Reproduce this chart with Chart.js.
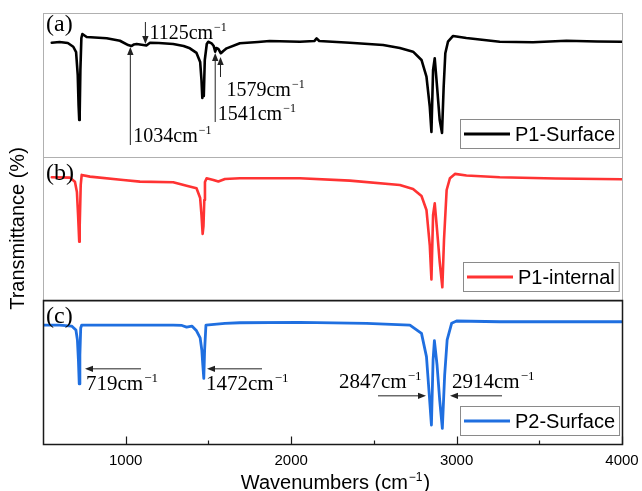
<!DOCTYPE html>
<html><head><meta charset="utf-8">
<script src="https://cdn.jsdelivr.net/npm/chart.js@4/dist/chart.umd.min.js"></script>
<style>html,body{margin:0;padding:0;background:#fff}#wrap{width:642px;height:491px}</style>
</head><body><div id="wrap"><canvas id="c" width="642" height="491"></canvas></div>
<script>
// ---------- data ----------
const xTicks = [1000, 2000, 3000, 4000];
const minorTicks = [1500, 2500, 3500];
const seriesNames = ['P1-Surface', 'P1-internal', 'P2-Surface'];
const seriesColors = ['#000000', '#ff3333', '#1f6fe0'];
const panelLetters = ['(a)', '(b)', '(c)'];

const waveA = [553,600,650,683,700,710,715,719,722,726,732,738,764,885,965,1015,1034,1050,1066,1106,1125,1147,1200,1287,1350,1388,1428,1450,1458,1463,1468,1472,1478,1490,1499,1519,1532,1541,1548,1560,1575,1590,1610,1690,1800,1870,2053,2140,2154,2170,2355,2556,2657,2737,2788,2818,2838,2848,2858,2868,2882,2898,2912,2922,2932,2948,2979,3059,3261,3462,3664,3850,3997];
const transA = [79.3,79.8,79.1,76.5,72.8,56.9,36.0,25.5,31.1,60.3,82.6,85.4,83.3,82.4,80.7,77.7,77.0,78.1,78.4,77.7,77.4,79.3,79.1,78.4,77.0,75.4,72.2,65.9,53.4,40.8,45.1,42.2,67.3,78.4,80.0,78.9,77.0,73.1,75.6,75.0,72.0,73.6,75.4,78.9,79.8,80.5,80.0,80.5,82.3,80.5,79.3,77.7,75.6,73.1,67.3,55.7,34.8,17.2,60.3,68.5,48.7,25.5,16.5,48.7,72.0,80.0,84.0,82.6,80.0,79.6,80.7,80.2,80.0];

const waveB = [553,663,693,705,712,719,722,728,734,784,985,1086,1287,1368,1428,1450,1458,1465,1470,1475,1479,1489,1530,1560,1600,1690,2053,2355,2657,2737,2788,2818,2838,2848,2858,2868,2882,2898,2914,2924,2940,2960,2990,3060,3261,3600,3997];
const transB = [85.7,85.4,82.6,75.4,59.4,40.8,52.4,80.3,87.3,86.1,83.8,82.6,82.2,79.8,78.0,71.2,59.4,46.2,51.7,69.8,82.4,85.0,83.8,82.7,84.5,85.0,85.0,83.3,80.3,77.5,72.6,62.9,38.5,14.6,59.4,67.5,49.0,26.7,9.1,42.0,76.8,85.0,88.0,86.9,85.7,84.8,84.3];

const waveC = [500,600,673,699,708,714,719,723,728,734,1000,1287,1340,1368,1400,1428,1450,1460,1466,1472,1477,1485,1600,1690,2053,2456,2718,2788,2818,2835,2848,2858,2866,2882,2898,2914,2928,2943,2970,3000,3261,3600,3997];
const transC = [82.8,82.8,82.1,79.3,72.4,58.5,41.8,61.9,80.7,82.8,82.8,82.8,82.5,81.4,82.1,78.8,73.8,65.4,55.0,45.7,65.4,82.8,83.9,84.4,84.7,84.0,82.8,77.0,60.8,34.1,13.2,58.5,71.9,55.0,30.6,10.9,48.0,72.4,84.0,85.6,85.1,85.1,85.1];

const peakLabelsA = ['1125', '1034', '1541', '1579'];
const peakLabelsC = ['719', '1472', '2847', '2914'];

const toPoints = (xs, ys) => xs.map((x, i) => ({x: x, y: ys[i]}));

// ---------- drawing helpers ----------
const SERIF = '"Liberation Serif", "Times New Roman", serif';
const SANS = '"Liberation Sans", Arial, sans-serif';

function cmText(ctx, num, x, y, size, fam) {
  ctx.textAlign = 'left'; ctx.textBaseline = 'alphabetic'; ctx.fillStyle = '#000';
  ctx.font = size + 'px ' + fam;
  const main = num + 'cm';
  ctx.fillText(main, x, y);
  const w = ctx.measureText(main).width;
  ctx.font = Math.round(size * 0.62) + 'px ' + fam;
  ctx.fillText('\u22121', x + w + 1, y - size * 0.38);
}
function arrow(ctx, x1, y1, x2, y2) {
  ctx.save();
  ctx.strokeStyle = '#222'; ctx.fillStyle = '#222'; ctx.lineWidth = 1;
  const a = Math.atan2(y2 - y1, x2 - x1), L = 8, H = 3.2;
  const bx = x2 - L * Math.cos(a), by = y2 - L * Math.sin(a);
  ctx.beginPath(); ctx.moveTo(x1, y1); ctx.lineTo(bx, by); ctx.stroke();
  ctx.beginPath();
  ctx.moveTo(x2, y2);
  ctx.lineTo(bx + H * Math.sin(a), by - H * Math.cos(a));
  ctx.lineTo(bx - H * Math.sin(a), by + H * Math.cos(a));
  ctx.closePath(); ctx.fill();
  ctx.restore();
}

const panelPlugin = {
  id: 'panelPlugin',
  afterDraw(chart) {
    const ctx = chart.ctx, ca = chart.chartArea, xs = chart.scales.x;
    const panels = ['yA', 'yB', 'yC'].map(id => chart.scales[id]);
    ctx.save();

    // frames
    const frameCol = ['#b0b0b0', '#b0b0b0', '#1a1a1a'];
    const frameW = [1, 1, 1.5];
    panels.forEach((s, i) => {
      ctx.strokeStyle = frameCol[i]; ctx.lineWidth = frameW[i];
      ctx.strokeRect(Math.round(ca.left) + 0.5, Math.round(s.top) + 0.5,
                     Math.round(ca.right - ca.left), Math.round(s.bottom - s.top));
    });

    // inner ticks on bottom axis
    ctx.strokeStyle = '#1a1a1a'; ctx.lineWidth = 1.2;
    const yb = Math.round(panels[2].bottom) + 0.5;
    xTicks.concat(minorTicks).forEach(v => {
      const px = Math.round(xs.getPixelForValue(v)) + 0.5;
      const len = xTicks.includes(v) ? 8 : 4;
      ctx.beginPath(); ctx.moveTo(px, yb); ctx.lineTo(px, yb - len); ctx.stroke();
    });

    // panel letters
    ctx.fillStyle = '#000'; ctx.textAlign = 'left'; ctx.textBaseline = 'alphabetic';
    ctx.font = '24px ' + SERIF;
    const letterDy = [18, 23, 23];
    panels.forEach((s, i) => ctx.fillText(panelLetters[i], ca.left + 3, s.top + letterDy[i]));

    // legends
    chart.data.datasets.forEach((ds, i) => {
      const s = panels[i];
      ctx.font = '20px ' + SANS;
      const tw = ctx.measureText(ds.label).width;
      const bw = 4 + 46 + 5 + tw + 4, bh = 29;
      const bx = Math.round(ca.right - 3 - bw), by = Math.round(s.bottom - 9 - bh);
      ctx.fillStyle = '#fff'; ctx.fillRect(bx, by, bw, bh);
      ctx.strokeStyle = '#8a8a8a'; ctx.lineWidth = 1;
      ctx.strokeRect(bx + 0.5, by + 0.5, bw, bh);
      ctx.strokeStyle = ds.borderColor; ctx.lineWidth = 3;
      ctx.beginPath(); ctx.moveTo(bx + 4, by + bh / 2 + 0.5); ctx.lineTo(bx + 50, by + bh / 2 + 0.5); ctx.stroke();
      ctx.fillStyle = '#000'; ctx.textBaseline = 'middle'; ctx.textAlign = 'left';
      ctx.fillText(ds.label, bx + 55, by + bh / 2 + 1.5);
    });

    // annotations panel (a)
    const ta = panels[0].top;
    const px = v => xs.getPixelForValue(v);
    arrow(ctx, px(1125) - 1, ta + 9, px(1125) - 1, ta + 31);
    cmText(ctx, peakLabelsA[0], px(1125) + 3, ta + 26, 20, SERIF);
    arrow(ctx, px(1034) - 1, ta + 132, px(1034) - 1, ta + 34);
    cmText(ctx, peakLabelsA[1], px(1034) + 2, ta + 129, 20, SERIF);
    arrow(ctx, px(1541), ta + 109, px(1541), ta + 40);
    cmText(ctx, peakLabelsA[2], px(1541) + 2.5, ta + 107, 20, SERIF);
    arrow(ctx, px(1579) - 1, ta + 64, px(1579) - 1, ta + 44);
    cmText(ctx, peakLabelsA[3], px(1579) + 5, ta + 83, 20, SERIF);

    // annotations panel (c)
    const tc = panels[2].top;
    arrow(ctx, 141, tc + 68.5, 85, tc + 68.5);
    cmText(ctx, peakLabelsC[0], 86, tc + 89.5, 21, SERIF);
    arrow(ctx, 262, tc + 68.5, 207, tc + 68.5);
    cmText(ctx, peakLabelsC[1], 206, tc + 89.5, 21, SERIF);
    cmText(ctx, peakLabelsC[2], 339, tc + 87.5, 21, SERIF);
    arrow(ctx, 378, tc + 95.5, 426, tc + 95.5);
    cmText(ctx, peakLabelsC[3], 452, tc + 87.5, 21, SERIF);
    arrow(ctx, 502, tc + 95.5, 450, tc + 95.5);

    // x title
    const fs = 20;
    ctx.font = fs + 'px ' + SANS;
    const p1 = 'Wavenumbers (cm', p3 = ')';
    const w1 = ctx.measureText(p1).width, w3 = ctx.measureText(p3).width;
    ctx.font = Math.round(fs * 0.62) + 'px ' + SANS;
    const w2 = ctx.measureText('\u22121').width;
    const total = w1 + 1 + w2 + 1 + w3;
    let x0 = (ca.left + ca.right) / 2 - total / 2 + 3;
    const yt = 489;
    ctx.fillStyle = '#000'; ctx.textAlign = 'left'; ctx.textBaseline = 'alphabetic';
    ctx.font = fs + 'px ' + SANS; ctx.fillText(p1, x0, yt);
    ctx.font = Math.round(fs * 0.62) + 'px ' + SANS; ctx.fillText('\u22121', x0 + w1 + 1, yt - fs * 0.4);
    ctx.font = fs + 'px ' + SANS; ctx.fillText(p3, x0 + w1 + 1 + w2 + 1, yt);

    // y title
    ctx.save();
    ctx.translate(18, (ca.top + ca.bottom) / 2);
    ctx.rotate(-Math.PI / 2);
    ctx.textAlign = 'center'; ctx.textBaseline = 'middle';
    ctx.font = '20px ' + SANS;
    ctx.fillText('Transmittance (%)', 0, 0);
    ctx.restore();

    ctx.restore();
  }
};

const yScale = (w) => ({
  type: 'linear', min: 0, max: 100, position: 'left', stack: 'panels', stackWeight: 1, weight: w,
  ticks: {display: false}, grid: {display: false, drawTicks: false}, border: {display: false}
});

new Chart(document.getElementById('c'), {
  type: 'line',
  data: {
    datasets: [
      {label: seriesNames[0], data: toPoints(waveA, transA), yAxisID: 'yA', borderColor: seriesColors[0], borderWidth: 2.6},
      {label: seriesNames[1], data: toPoints(waveB, transB), yAxisID: 'yB', borderColor: seriesColors[1], borderWidth: 2.6},
      {label: seriesNames[2], data: toPoints(waveC, transC), yAxisID: 'yC', borderColor: seriesColors[2], borderWidth: 2.8}
    ]
  },
  options: {
    responsive: false, animation: false, devicePixelRatio: 1,
    elements: {point: {radius: 0}, line: {tension: 0, borderJoinStyle: 'round', borderCapStyle: 'round', fill: false}},
    layout: {padding: {left: 43, right: 20, top: 13, bottom: 13}},
    plugins: {legend: {display: false}, tooltip: {enabled: false}},
    scales: {
      x: {
        type: 'linear', min: 500, max: 4000, position: 'bottom',
        afterBuildTicks: s => { s.ticks = xTicks.map(v => ({value: v})); },
        afterFit: s => { s.paddingRight = 0; s.paddingLeft = 0; },
        ticks: {color: '#000', padding: 8, maxRotation: 0, autoSkip: false,
                font: {family: SANS, size: 15}, callback: v => String(v)},
        grid: {display: false, drawTicks: false}, border: {display: false}
      },
      yA: yScale(3),
      yB: yScale(2),
      yC: yScale(1)
    }
  },
  plugins: [panelPlugin]
});
</script>
</body></html>
